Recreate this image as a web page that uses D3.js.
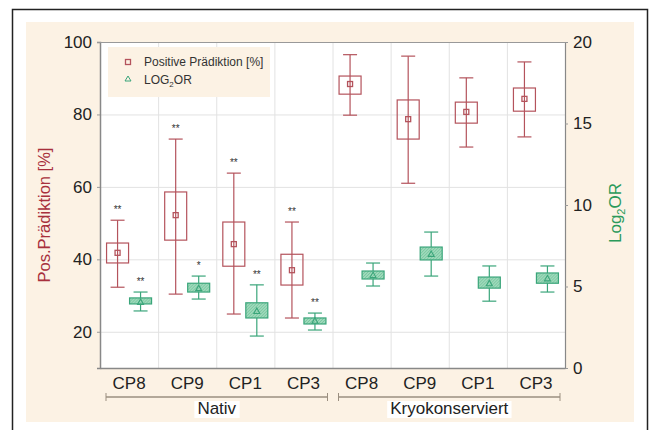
<!DOCTYPE html>
<html>
<head>
<meta charset="utf-8">
<script src="https://cdn.jsdelivr.net/npm/d3@7"></script>
<style>
  body { margin: 0; background: #fff; }
  svg { display: block; font-family: 'Liberation Sans', Arial, sans-serif; }
</style>
</head>
<body>
<svg width="653" height="430"></svg>
<script>
// data
const categories = ['CP8', 'CP9', 'CP1', 'CP3', 'CP8', 'CP9', 'CP1', 'CP3'];
const groupNames = ['Nativ', 'Kryokonserviert'];
const groupOf = [0, 0, 0, 0, 1, 1, 1, 1];

// Positive Prädiktion [%]
const posMin  = [32.3, 30.4, 24.9, 23.8, 79.8, 61.0, 71.0, 73.8];
const posQ1   = [39.0, 45.3, 38.1, 32.9, 85.6, 73.2, 77.6, 80.9];
const posMean = [41.8, 52.2, 44.2, 37.0, 88.4, 78.7, 80.7, 84.3];
const posQ3   = [44.5, 58.6, 50.3, 41.4, 90.6, 84.0, 83.4, 87.3];
const posMax  = [50.8, 73.2, 63.8, 50.3, 96.5, 96.1, 90.1, 94.5];
const posSig  = ['**', '**', '**', '**', '', '', '', ''];

// LOG2OR
const logMin  = [3.5, 4.23, 1.96, 2.33, 5.03, 5.64, 4.1, 4.66];
const logQ1   = [3.93, 4.66, 3.07, 2.7, 5.46, 6.63, 4.9, 5.2];
const logMean = [4.05, 4.9, 3.5, 2.9, 5.7, 7.0, 5.2, 5.5];
const logQ3   = [4.3, 5.2, 4.0, 3.07, 5.95, 7.42, 5.58, 5.83];
const logMax  = [4.66, 5.64, 5.1, 3.37, 6.44, 8.34, 6.26, 6.26];
const logSig  = ['**', '*', '**', '**', '', '', '', ''];

const leftTicks = [20, 40, 60, 80, 100];
const rightTicks = [0, 5, 10, 15, 20];

const red = '#b4535c';
const redTitle = '#a8303c';
const green = '#3aa57a';
const greenTitle = '#2a9a5a';
const fontFam = "'Liberation Sans', Arial, sans-serif";

const svg = d3.select('svg');

const margin = { top: 42, right: 88, bottom: 62, left: 100 };
const width = +svg.attr('width');
const height = +svg.attr('height');
const innerWidth = width - margin.left - margin.right;
const innerHeight = height - margin.top - margin.bottom;

// outer frame + beige panel
svg.append('path')
  .attr('d', 'M12.5,430V9.5H647.5V430')
  .attr('fill', '#fff').attr('stroke', '#222').attr('stroke-width', 1.5);
svg.append('rect')
  .attr('x', 26).attr('y', 22).attr('width', 608).attr('height', 400)
  .attr('fill', '#fcf2e4');

const defs = svg.append('defs');
const pat = defs.append('pattern')
  .attr('id', 'hatch').attr('patternUnits', 'userSpaceOnUse')
  .attr('width', 3).attr('height', 3);
pat.append('rect').attr('width', 3).attr('height', 3).attr('fill', '#9ed9bb');
pat.append('path').attr('d', 'M0,3 L3,0').attr('stroke', '#6fc198').attr('stroke-width', 0.8);

const keys = categories.map((c, i) => i);
const xScale = d3.scaleBand().domain(keys).range([0, innerWidth]);
const yLeft = d3.scaleLinear().domain([10, 100]).range([innerHeight, 0]);
const yRight = d3.scaleLinear().domain([0, 20]).range([innerHeight, 0]);

const g = svg.append('g')
  .attr('transform', `translate(${margin.left},${margin.top})`);

g.append('rect').attr('width', innerWidth).attr('height', innerHeight).attr('fill', '#fff');

// grid
g.selectAll('.hgrid').data(leftTicks.slice(0, 4)).enter().append('line')
  .attr('x1', 0).attr('x2', innerWidth)
  .attr('y1', d => yLeft(d) + 0.5).attr('y2', d => yLeft(d) + 0.5)
  .attr('stroke', '#e2e2e2');
g.selectAll('.vgrid').data(keys.slice(1)).enter().append('line')
  .attr('x1', d => xScale(d) + 0.5).attr('x2', d => xScale(d) + 0.5)
  .attr('y1', 0).attr('y2', innerHeight)
  .attr('stroke', '#e2e2e2');

// axes
const styleAxis = (ax, sw) => {
  ax.attr('font-family', fontFam).attr('font-size', 17);
  ax.selectAll('text').attr('fill', '#222');
  ax.select('.domain').attr('stroke', '#888').attr('stroke-width', sw);
  ax.selectAll('.tick line').attr('stroke', '#999');
};

const yAxisLG = g.append('g')
  .call(d3.axisLeft(yLeft).tickValues(leftTicks).tickSize(3).tickPadding(5));
styleAxis(yAxisLG, 1.5);

const yAxisRG = g.append('g').attr('transform', `translate(${innerWidth},0)`)
  .call(d3.axisRight(yRight).tickValues(rightTicks).tickSize(3).tickPadding(5));
styleAxis(yAxisRG, 1.2);

const xAxisG = g.append('g').attr('transform', `translate(0,${innerHeight})`)
  .call(d3.axisBottom(xScale).tickFormat(i => categories[i]).tickSize(0).tickPadding(9));
styleAxis(xAxisG, 1.5);

g.append('line').attr('x1', 0).attr('x2', innerWidth).attr('y1', 0.5).attr('y2', 0.5)
  .attr('stroke', '#999');

// group brackets
groupNames.forEach((name, gi) => {
  const idx = keys.filter(k => groupOf[k] === gi);
  const x0 = xScale(idx[0]) + 6;
  const x1 = xScale(idx[idx.length - 1]) + xScale.bandwidth() - 5;
  const by = innerHeight + 29;
  g.append('line').attr('x1', x0).attr('x2', x1).attr('y1', by).attr('y2', by)
    .attr('stroke', '#9b8f80').attr('stroke-width', 1.5);
  [x0, x1].forEach(x => g.append('line').attr('x1', x).attr('x2', x)
    .attr('y1', by - 4).attr('y2', by + 4).attr('stroke', '#9b8f80'));
  const bgRect = g.append('rect').attr('fill', '#fff');
  const t = g.append('text').attr('x', (x0 + x1) / 2).attr('y', by + 17)
    .attr('text-anchor', 'middle').attr('font-size', 17).attr('fill', '#222').text(name);
  const bb = t.node().getBBox();
  bgRect.attr('x', bb.x - 3).attr('y', bb.y + 2).attr('width', bb.width + 6).attr('height', bb.height - 2);
});

const half = xScale.bandwidth() / 2;
const off = 11.5;
const boxW = 22;
const capW = 14;

function drawBoxes(cls, scale, mins, q1s, means, q3s, maxs, sig, dx, stroke, fill, marker) {
  const bg = g.selectAll('.' + cls).data(keys).enter().append('g')
    .attr('class', cls)
    .attr('transform', d => `translate(${xScale(d) + half + dx},0)`);
  bg.append('line').attr('x1', 0).attr('x2', 0)
    .attr('y1', d => scale(maxs[d])).attr('y2', d => scale(mins[d]))
    .attr('stroke', stroke).attr('stroke-width', 1.2);
  bg.append('line').attr('x1', -capW / 2).attr('x2', capW / 2)
    .attr('y1', d => scale(maxs[d])).attr('y2', d => scale(maxs[d]))
    .attr('stroke', stroke).attr('stroke-width', 1.2);
  bg.append('line').attr('x1', -capW / 2).attr('x2', capW / 2)
    .attr('y1', d => scale(mins[d])).attr('y2', d => scale(mins[d]))
    .attr('stroke', stroke).attr('stroke-width', 1.2);
  bg.append('rect').attr('x', -boxW / 2).attr('width', boxW)
    .attr('y', d => scale(q3s[d])).attr('height', d => scale(q1s[d]) - scale(q3s[d]))
    .attr('fill', fill).attr('stroke', stroke).attr('stroke-width', 1.2);
  if (marker === 'square') {
    bg.append('rect').attr('x', -2.5).attr('width', 5).attr('height', 5)
      .attr('y', d => scale(means[d]) - 2.5)
      .attr('fill', 'none').attr('stroke', stroke).attr('stroke-width', 1.3);
  } else {
    bg.append('path')
      .attr('d', d => { const y = scale(means[d]); return `M0,${y - 3}L3,${y + 2.5}L-3,${y + 2.5}Z`; })
      .attr('fill', 'none').attr('stroke', stroke).attr('stroke-width', 1.1);
  }
  bg.filter(d => sig[d] !== '').append('text')
    .attr('x', 0).attr('y', d => scale(maxs[d]) - 7)
    .attr('text-anchor', 'middle').attr('font-size', 10).attr('fill', '#333')
    .text(d => sig[d]);
}

drawBoxes('pos', yLeft, posMin, posQ1, posMean, posQ3, posMax, posSig, -off, red, 'none', 'square');
drawBoxes('log', yRight, logMin, logQ1, logMean, logQ3, logMax, logSig, off, green, 'url(#hatch)', 'triangle');

// legend
const lg = g.append('g').attr('transform', 'translate(8,5)');
lg.append('rect').attr('width', 162).attr('height', 50).attr('fill', '#fcf2e4');
lg.append('rect').attr('x', 17.5).attr('y', 12.5).attr('width', 5).attr('height', 5)
  .attr('fill', 'none').attr('stroke', red).attr('stroke-width', 1.3);
lg.append('path').attr('d', 'M20,29L23,34L17,34Z').attr('fill', 'none').attr('stroke', green);
lg.append('text').attr('x', 36).attr('y', 19).attr('font-size', 12).attr('fill', '#333')
  .text('Positive Prädiktion [%]');
const lt = lg.append('text').attr('x', 36).attr('y', 37).attr('font-size', 12).attr('fill', '#333');
lt.append('tspan').text('LOG');
lt.append('tspan').attr('font-size', 8).attr('dy', 3).text('2');
lt.append('tspan').attr('dy', -3).text('OR');

// axis titles
g.append('text')
  .attr('transform', `translate(-50,${innerHeight / 2 + 10}) rotate(-90)`)
  .attr('text-anchor', 'middle').attr('font-size', 16.5).attr('fill', redTitle)
  .text('Pos.Prädiktion [%]');
const rt = g.append('text')
  .attr('transform', `translate(${innerWidth + 56},${innerHeight / 2 + 8}) rotate(-90)`)
  .attr('text-anchor', 'middle').attr('font-size', 17).attr('fill', greenTitle);
rt.append('tspan').text('Log');
rt.append('tspan').attr('font-size', 11).attr('dy', 4).text('2');
rt.append('tspan').attr('dy', -4).text('OR');
</script>
</body>
</html>
